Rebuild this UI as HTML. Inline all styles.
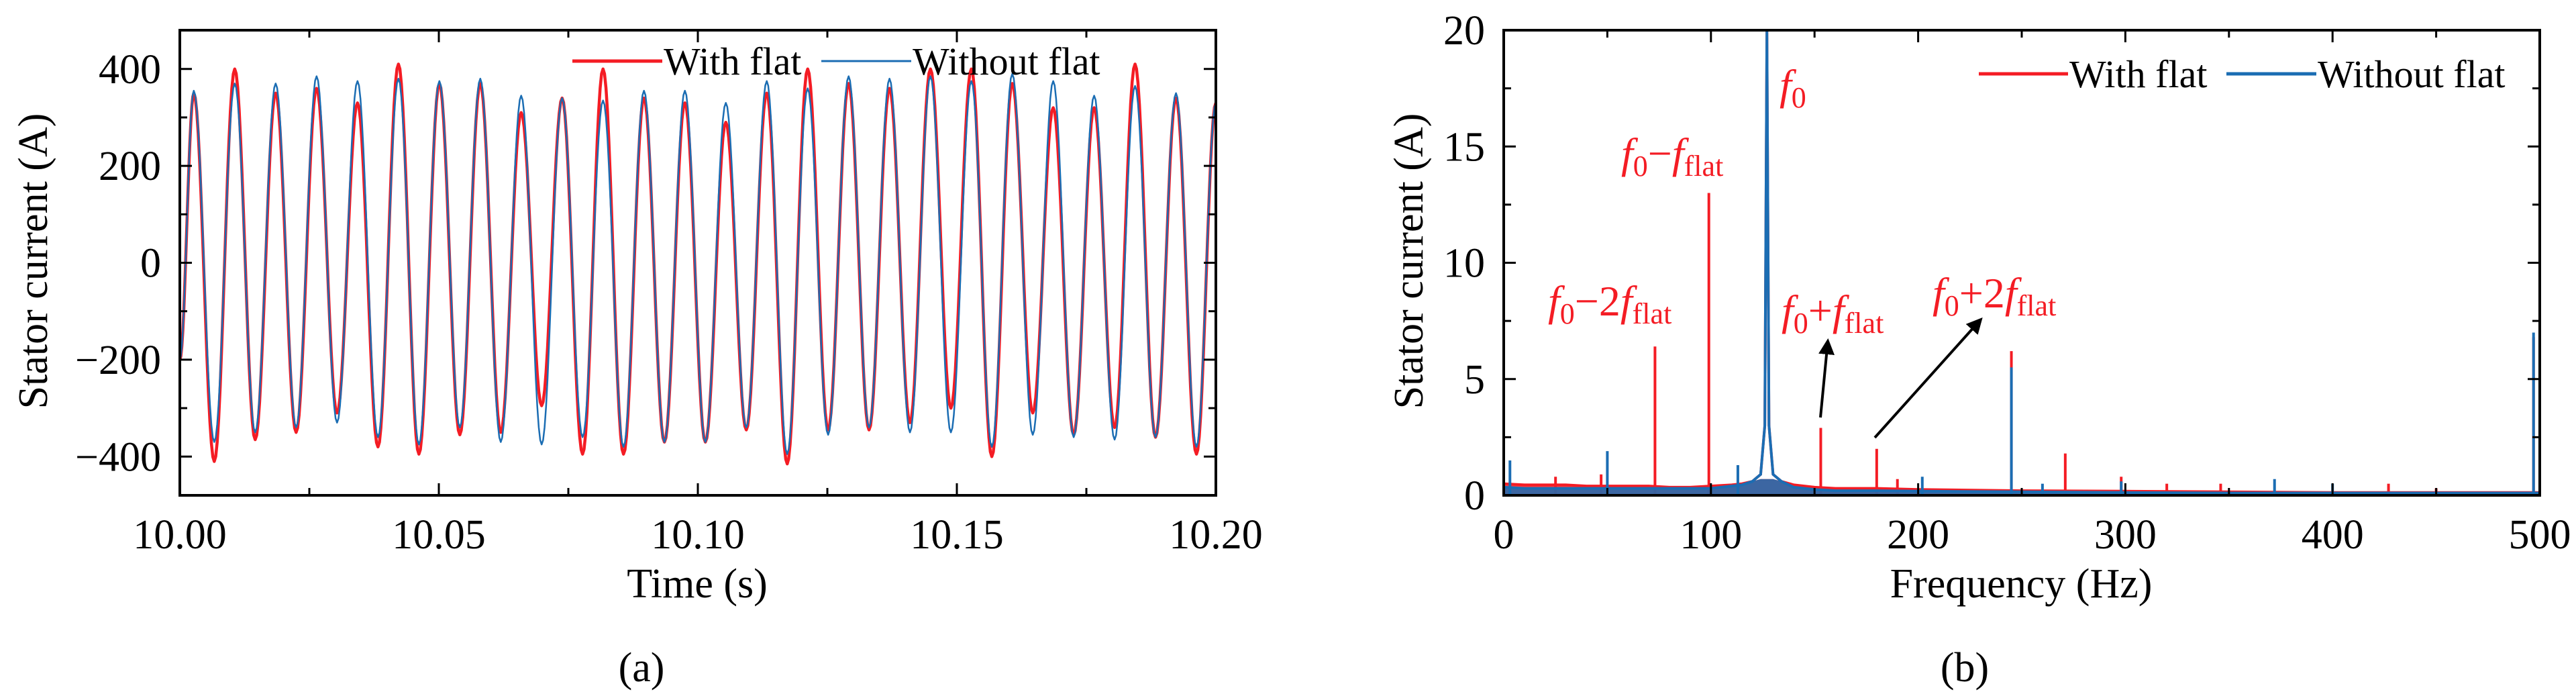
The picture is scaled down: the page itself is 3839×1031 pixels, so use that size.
<!DOCTYPE html>
<html><head><meta charset="utf-8"><style>
html,body{margin:0;padding:0;background:#fff;}
svg{display:block;font-family:"Liberation Serif",serif;}
</style></head><body>
<svg id="fig" width="3839" height="1031" viewBox="0 0 3839 1031" xmlns="http://www.w3.org/2000/svg">
<g id="pa"></g>
<g id="pb"></g>
</svg>
<script>
// ---------- Panel (a) data ----------
const timeTicks = [10.00, 10.05, 10.10, 10.15, 10.20];
const timeTickLabels = ["10.00", "10.05", "10.10", "10.15", "10.20"];
const currentTicks = [-400, -200, 0, 200, 400];
const currentTickLabels = ["\u2212400", "\u2212200", "0", "200", "400"];
const firstPeakTime = 10.0027;
const cyclePeriod = 0.0079;
const startValue = -200;
const endValue = 330;
const redPeaks = [350,400,350,360,330,410,370,370,310,340,400,340,330,290,350,400,370,360,400,400,370,320,320,410,340];
const redTroughs = [-410,-365,-350,-310,-380,-395,-355,-350,-295,-395,-395,-370,-370,-345,-415,-345,-345,-330,-300,-400,-310,-355,-340,-360,-395];
const bluePeaks = [355,370,370,385,375,380,375,380,345,340,335,355,355,330,375,360,385,380,385,375,390,375,345,365,350];
const blueTroughs = [-370,-350,-340,-330,-360,-375,-340,-370,-375,-360,-380,-370,-370,-340,-395,-355,-340,-350,-350,-380,-355,-360,-365,-360,-380];

// ---------- Panel (b) data ----------
const freqTicks = [0, 100, 200, 300, 400, 500];
const freqTickLabels = ["0", "100", "200", "300", "400", "500"];
const ampTicks = [0, 5, 10, 15, 20];
const ampTickLabels = ["0", "5", "10", "15", "20"];
const floorFreqs = [0,10,20,30,40,50,60,70,80,90,100,110,115,120,124,126,127,128,130,134,140,150,160,180,200,250,300,350,400,450,500];
const redFloor   = [0.5,0.45,0.45,0.45,0.4,0.4,0.4,0.4,0.35,0.35,0.4,0.45,0.5,0.6,0.9,3,20,3,0.9,0.6,0.45,0.35,0.3,0.3,0.25,0.2,0.18,0.15,0.12,0.12,0.12];
const blueFloor  = [0.35,0.3,0.3,0.3,0.3,0.3,0.3,0.3,0.3,0.3,0.3,0.4,0.45,0.6,0.9,3,20,3,0.9,0.6,0.35,0.25,0.2,0.2,0.18,0.15,0.12,0.1,0.1,0.1,0.1];
const redSpikeFreqs = [25,47,73,99,153,180,190,245,271,298,320,346,427,450,497];
const redSpikeAmps  = [0.8,0.9,6.4,13,2.9,2,0.7,6.2,1.8,0.8,0.5,0.5,0.5,0.3,6.8];
const blueSpikeFreqs = [3,50,113,202,245,260,298,372,400,497];
const blueSpikeAmps  = [1.5,1.9,1.3,0.8,5.5,0.5,0.6,0.7,0.5,7];

const NS = "http://www.w3.org/2000/svg";
const RED = "#f41c24", BLUE = "#1b6db3";
function mk(parent, tag, attrs, text){
  const e = document.createElementNS(NS, tag);
  for (const k in attrs) e.setAttribute(k, attrs[k]);
  if (text !== undefined) e.textContent = text;
  parent.appendChild(e);
  return e;
}

// ===== Panel (a) =====
(function(){
  const g = document.getElementById('pa');
  const L=268, R=1812, T=45, B=738, ymin=-480, ymax=480, xmin=10.0, xmax=10.2;
  const sx = t => L + (t-xmin)/(xmax-xmin)*(R-L);
  const sy = v => B - (v-ymin)/(ymax-ymin)*(B-T);
  const clip = mk(g,'clipPath',{id:'clipA'});
  mk(clip,'rect',{x:L,y:T,width:R-L,height:B-T});

  function series(peaks, troughs, color, w, name){
    const ext = [[xmin, startValue]];
    for (let i=0;i<peaks.length;i++){
      ext.push([firstPeakTime + i*cyclePeriod, peaks[i]]);
      if (i<troughs.length) ext.push([firstPeakTime + (i+0.5)*cyclePeriod, troughs[i]]);
    }
    ext.push([xmax, endValue]);
    let d = "";
    for (let i=0;i<ext.length-1;i++){
      const [t0,v0]=ext[i],[t1,v1]=ext[i+1];
      const n=14;
      for (let k=(i===0?0:1);k<=n;k++){
        const f=k/n, c=(1-Math.cos(Math.PI*f))/2;
        const t=t0+(t1-t0)*f, v=v0+(v1-v0)*c;
        d += (d?"L":"M")+sx(t).toFixed(1)+","+sy(v).toFixed(1);
      }
    }
    const p = mk(g,'path',{d:d,fill:'none',stroke:color,'stroke-width':w,'stroke-linejoin':'round','clip-path':'url(#clipA)'});
    
    
  }
  series(redPeaks, redTroughs, RED, 4.5, 'with-flat-line');
  series(bluePeaks, blueTroughs, BLUE, 2.5, 'without-flat-line');

  for (let i=0;i<=8;i++){
    const t = xmin + i*0.025, x=sx(t), len = i%2===0?18:11;
    mk(g,'line',{x1:x,y1:B,x2:x,y2:B-len,stroke:'#000','stroke-width':3});
    mk(g,'line',{x1:x,y1:T,x2:x,y2:T+len,stroke:'#000','stroke-width':3});
  }
  for (let v=-400; v<=400; v+=100){
    const y=sy(v), len = v%200===0?18:11;
    mk(g,'line',{x1:L,y1:y,x2:L+len,y2:y,stroke:'#000','stroke-width':3});
    mk(g,'line',{x1:R,y1:y,x2:R-len,y2:y,stroke:'#000','stroke-width':3});
  }
  mk(g,'rect',{x:L,y:T,width:R-L,height:B-T,fill:'none',stroke:'#000','stroke-width':4});
  timeTicks.forEach((t,i)=>{
    const e = mk(g,'text',{x:sx(t),y:817,'font-size':62,'text-anchor':'middle'},timeTickLabels[i]);
    
    
  });
  currentTicks.forEach((v,i)=>{
    const e = mk(g,'text',{x:240,y:sy(v)+21,'font-size':62,'text-anchor':'end'},currentTickLabels[i]);
    
    
  });
  const xt = mk(g,'text',{x:1039,y:890,'font-size':62,'text-anchor':'middle'},'Time (s)');
   
  const yt = mk(g,'text',{x:0,y:0,'font-size':62,'text-anchor':'middle',transform:'translate(70,389) rotate(-90)'},'Stator current (A)');
   
  const cap = mk(g,'text',{x:956,y:1015,'font-size':62,'text-anchor':'middle'},'(a)');
   
  const lg = mk(g,'g',{});
   
  mk(lg,'line',{x1:853,y1:91,x2:987,y2:91,stroke:RED,'stroke-width':5});
  mk(lg,'text',{x:989,y:111,'font-size':58},'With flat');
  mk(lg,'line',{x1:1224,y1:91,x2:1358,y2:91,stroke:BLUE,'stroke-width':3});
  mk(lg,'text',{x:1360,y:111,'font-size':58},'Without flat');
})();

// ===== Panel (b) =====
(function(){
  const g = document.getElementById('pb');
  const L=2241, R=3785, T=45, B=738, ymin=0, ymax=20, xmin=0, xmax=500;
  const sx = f => L + (f-xmin)/(xmax-xmin)*(R-L);
  const sy = v => B - (v-ymin)/(ymax-ymin)*(B-T);
  const clip = mk(g,'clipPath',{id:'clipB'});
  mk(clip,'rect',{x:L,y:T,width:R-L,height:B-T});

  function spectrum(fl, sf, sa, color, w, name){
    let band = "";
    for (let i=0;i<floorFreqs.length;i++) band += (band?"L":"M")+sx(floorFreqs[i]).toFixed(1)+","+sy(Math.min(fl[i],0.7)).toFixed(1);
    band += "L"+sx(floorFreqs[floorFreqs.length-1])+","+B+"L"+sx(floorFreqs[0])+","+B+"Z";
    const bp = mk(g,'path',{d:band,fill:color,opacity:0.85,'clip-path':'url(#clipB)'});
    
    
    let d = "";
    for (let i=0;i<floorFreqs.length;i++){
      d += (d?"L":"M")+sx(floorFreqs[i]).toFixed(1)+","+sy(fl[i]).toFixed(1);
    }
    const p = mk(g,'path',{d:d,fill:'none',stroke:color,'stroke-width':w+1,'clip-path':'url(#clipB)'});
    
    
    sf.forEach((f,i)=>{
      const s = mk(g,'line',{x1:sx(f),y1:B,x2:sx(f),y2:sy(sa[i]),stroke:color,'stroke-width':w+1,'clip-path':'url(#clipB)'});
      
      
    });
  }
  spectrum(redFloor, redSpikeFreqs, redSpikeAmps, RED, 3, 'with-flat');
  spectrum(blueFloor, blueSpikeFreqs, blueSpikeAmps, BLUE, 3, 'without-flat');

  for (let f=0; f<=500; f+=50){
    const x=sx(f), len = f%100===0?18:11;
    mk(g,'line',{x1:x,y1:B,x2:x,y2:B-len,stroke:'#000','stroke-width':3});
    mk(g,'line',{x1:x,y1:T,x2:x,y2:T+len,stroke:'#000','stroke-width':3});
  }
  for (let v=0; v<=20; v+=2.5){
    const y=sy(v), len = v%5===0?18:11;
    mk(g,'line',{x1:L,y1:y,x2:L+len,y2:y,stroke:'#000','stroke-width':3});
    mk(g,'line',{x1:R,y1:y,x2:R-len,y2:y,stroke:'#000','stroke-width':3});
  }
  mk(g,'rect',{x:L,y:T,width:R-L,height:B-T,fill:'none',stroke:'#000','stroke-width':4});
  freqTicks.forEach((f,i)=>{
    const e = mk(g,'text',{x:sx(f),y:817,'font-size':62,'text-anchor':'middle'},freqTickLabels[i]);
    
    
  });
  ampTicks.forEach((v,i)=>{
    const e = mk(g,'text',{x:2213,y:sy(v)+21,'font-size':62,'text-anchor':'end'},ampTickLabels[i]);
    
    
  });
  const xt = mk(g,'text',{x:3012,y:890,'font-size':62,'text-anchor':'middle'},'Frequency (Hz)');
   
  const yt = mk(g,'text',{x:0,y:0,'font-size':62,'text-anchor':'middle',transform:'translate(2120,389) rotate(-90)'},'Stator current (A)');
   
  const cap = mk(g,'text',{x:2928,y:1015,'font-size':62,'text-anchor':'middle'},'(b)');
   

  const lg = mk(g,'g',{});
   
  mk(lg,'line',{x1:2949,y1:110,x2:3082,y2:110,stroke:RED,'stroke-width':5});
  mk(lg,'text',{x:3084,y:130,'font-size':58},'With flat');
  mk(lg,'line',{x1:3318,y1:110,x2:3452,y2:110,stroke:BLUE,'stroke-width':5});
  mk(lg,'text',{x:3454,y:130,'font-size':58},'Without flat');

  function ann(x, y, parts, name){
    const t = mk(g,'text',{x:x,y:y,'font-size':64,fill:RED});
    
    
    parts.forEach(p=>{
      const ts = mk(t,'tspan',p.sub?{'font-size':44,dy:12}:{dy:p.up?-12:0},p.s);
      if (p.i) ts.setAttribute('font-style','italic');
    });
  }
  ann(2652,148,[{s:'f',i:1},{s:'0',sub:1}],'label-f0');
  ann(2416,250,[{s:'f',i:1},{s:'0',sub:1},{s:'\u2212',up:1},{s:'f',i:1},{s:'flat',sub:1}],'label-f0-minus-fflat');
  ann(2307,470,[{s:'f',i:1},{s:'0',sub:1},{s:'\u22122',up:1},{s:'f',i:1},{s:'flat',sub:1}],'label-f0-minus-2fflat');
  ann(2655,484,[{s:'f',i:1},{s:'0',sub:1},{s:'+',up:1},{s:'f',i:1},{s:'flat',sub:1}],'label-f0-plus-fflat');
  ann(2880,458,[{s:'f',i:1},{s:'0',sub:1},{s:'+2',up:1},{s:'f',i:1},{s:'flat',sub:1}],'label-f0-plus-2fflat');

  const defs = mk(g,'defs',{});
  const m = mk(defs,'marker',{id:'arr',markerWidth:6,markerHeight:6,refX:5,refY:3,orient:'auto',markerUnits:'strokeWidth'});
  mk(m,'path',{d:'M0,0 L6,3 L0,6 Z',fill:'#000'});
  const a1 = mk(g,'line',{x1:2713,y1:622,x2:2724,y2:508,stroke:'#000','stroke-width':4,'marker-end':'url(#arr)'});
   
  const a2 = mk(g,'line',{x1:2794,y1:652,x2:2952,y2:476,stroke:'#000','stroke-width':4,'marker-end':'url(#arr)'});
   
})();
</script>
</body></html>
